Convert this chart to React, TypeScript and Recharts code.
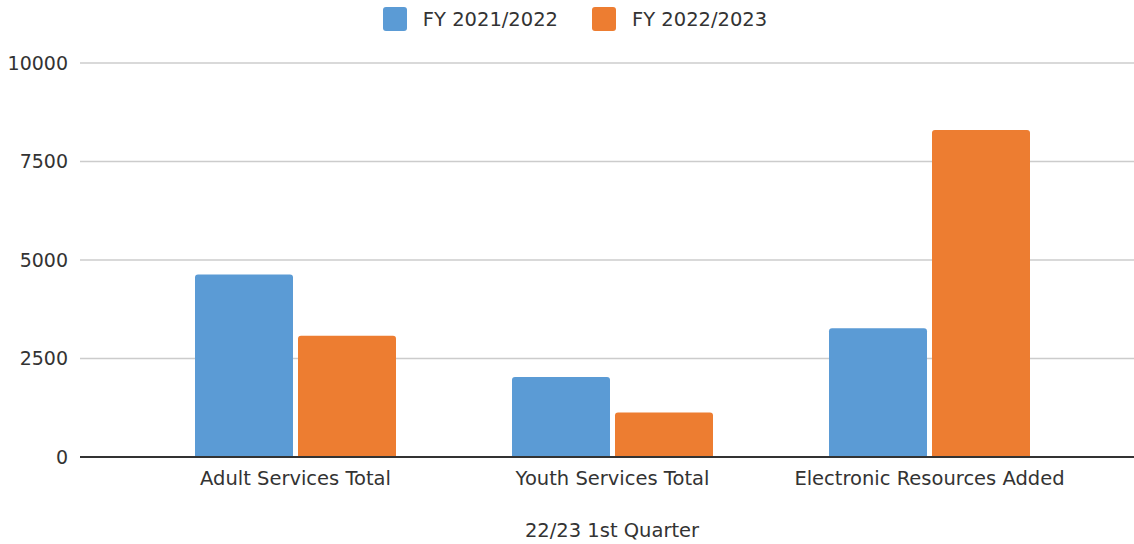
import React from 'react';
import { BarChart, Bar, XAxis, YAxis, CartesianGrid, Legend, Label } from 'recharts';

const categories = ['Adult Services Total', 'Youth Services Total', 'Electronic Resources Added'];
const fy2122 = [4630, 2030, 3270];
const fy2223 = [3080, 1130, 8300];
const yTicks = [0, 2500, 5000, 7500, 10000];
const seriesNames = ['FY 2021/2022', 'FY 2022/2023'];
const colors = ['#5B9BD5', '#ED7D31'];

const data = categories.map((c, i) => ({ name: c, a: fy2122[i], b: fy2223[i] }));

const FONT = "'DejaVu Sans', sans-serif";

const renderLegend = () => (
  <div style={{ display: 'flex', justifyContent: 'center', alignItems: 'center', fontFamily: FONT, fontSize: 19.5, color: '#333', height: 24, paddingLeft: 16 }}>
    {seriesNames.map((n, i) => (
      <div key={n} style={{ display: 'flex', alignItems: 'center', marginLeft: i === 0 ? 0 : 34 }}>
        <div style={{ width: 24, height: 24, background: colors[i], borderRadius: 3, marginRight: 16 }} />
        <span>{n}</span>
      </div>
    ))}
  </div>
);

export default function App() {
  return (
    <div style={{ position: 'absolute', top: 0, left: 0, width: 1134, height: 544, background: '#fff' }}>
      <BarChart
        width={1134}
        height={544}
        data={data}
        margin={{ top: 39, right: 0, bottom: 57, left: 0 }}
        barSize={98}
        barGap={5}
      >
        <CartesianGrid vertical={false} stroke="#cccccc" strokeWidth={1.5} />
        <XAxis
          dataKey="name"
          padding={{ left: 57, right: 46 }}
          tickLine={false}
          tickSize={0}
          tickMargin={14}
          axisLine={{ stroke: '#333', strokeWidth: 2 }}
          tick={{ fill: '#333', fontSize: 19.5, fontFamily: FONT }}
          interval={0}
        >
          <Label value="22/23 1st Quarter" position="bottom" offset={36} dx={5} style={{ fill: '#333', fontSize: 19.5, fontFamily: FONT }} />
        </XAxis>
        <YAxis
          width={80}
          domain={[0, 10000]}
          ticks={yTicks}
          tickLine={false}
          axisLine={false}
          tickSize={0}
          tickMargin={12}
          tick={{ fill: '#333', fontSize: 19, fontFamily: FONT }}
        />
        <Legend verticalAlign="top" content={renderLegend} wrapperStyle={{ top: 7 }} />
        <Bar dataKey="a" name={seriesNames[0]} fill={colors[0]} radius={[3, 3, 0, 0]} isAnimationActive={false} />
        <Bar dataKey="b" name={seriesNames[1]} fill={colors[1]} radius={[3, 3, 0, 0]} isAnimationActive={false} />
      </BarChart>
    </div>
  );
}
